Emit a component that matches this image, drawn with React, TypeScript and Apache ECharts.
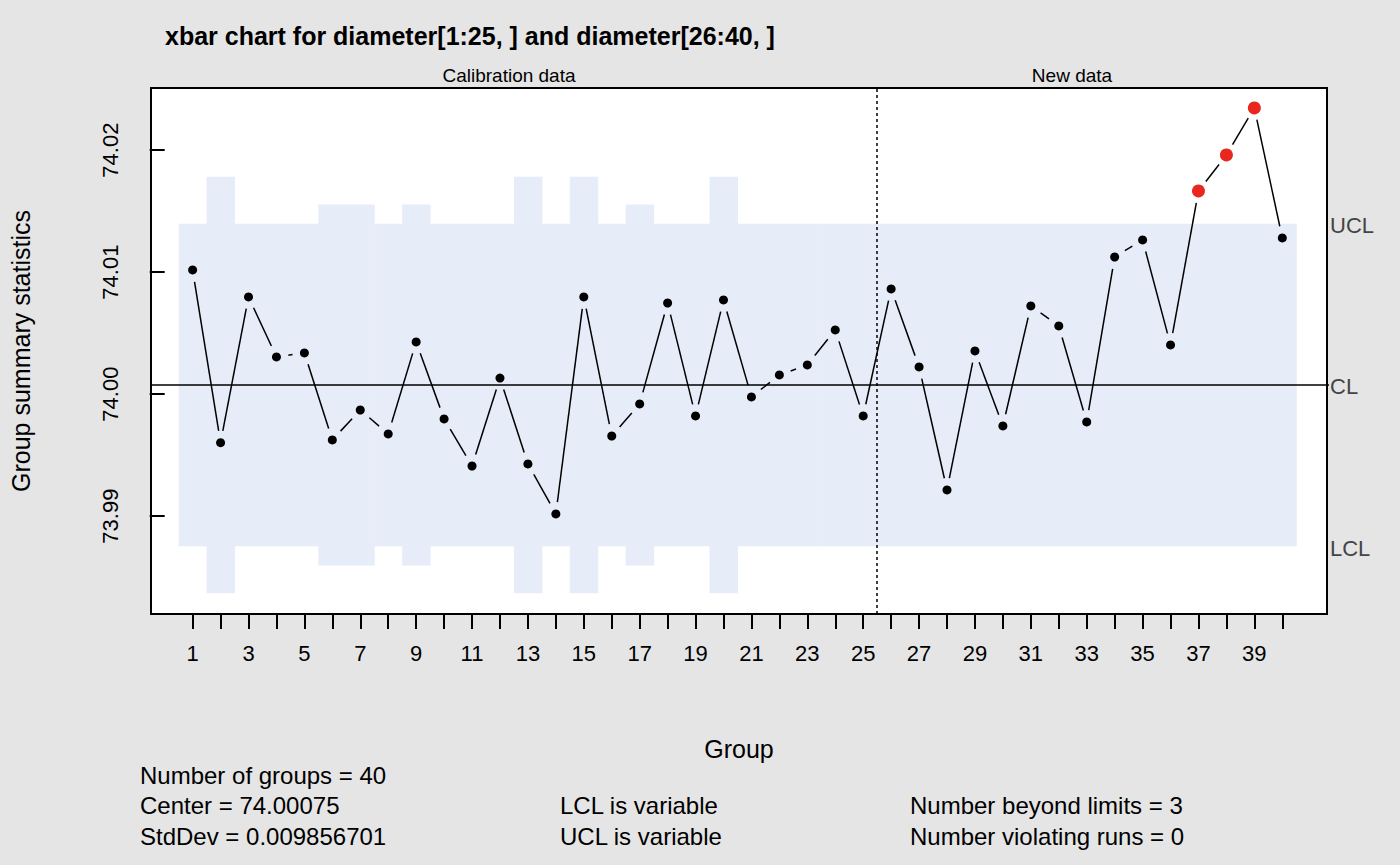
import React, { useEffect, useRef } from "react";
import * as echarts from "echarts";

const groups = Array.from({ length: 40 }, (_, i) => i + 1);
const means = [
  74.01018, 73.99602, 74.00797, 74.00305, 74.00338, 73.99625, 73.9987, 73.99674, 74.00428, 73.99797,
  73.99411, 74.00132, 73.99428, 73.99018, 74.00797, 73.99657, 73.9992, 74.00747, 73.99821, 74.00772,
  73.99977, 74.00157, 74.00239, 74.00526, 73.99821, 74.00862, 74.00223, 73.99215, 74.00354, 73.99739,
  74.00723, 74.00559, 73.99772, 74.01124, 74.01264, 74.00403, 74.01665, 74.0196, 74.02346, 74.0128,
];
const sampleSize = [
  5, 3, 5, 5, 5, 4, 4, 5, 4, 5, 5, 5, 3, 5, 3, 5, 4, 5, 5, 3, 5, 5, 5, 5, 5,
  5, 5, 5, 5, 5, 5, 5, 5, 5, 5, 5, 5, 5, 5, 5,
];
const center = 74.00075;
const stdDev = 0.009856701;
const ucl = sampleSize.map((n) => center + (3 * stdDev) / Math.sqrt(n));
const lcl = sampleSize.map((n) => center - (3 * stdDev) / Math.sqrt(n));
const beyond = means.map((m, i) => (m > ucl[i] || m < lcl[i] ? 1 : 0));
const yTicks = [73.99, 74.0, 74.01, 74.02];

export default function App() {
  const ref = useRef<HTMLDivElement>(null);
  useEffect(() => {
    document.body.style.margin = "0";
    document.body.style.background = "#e5e5e5";
    const chart = echarts.init(ref.current!, null, { renderer: "svg" });
    const font = "Liberation Sans, Arial, sans-serif";
    const txt = (x: number, y: number, t: string, extra: any = {}) => ({
      type: "text", x, y,
      style: { text: t, fill: "#000", font: `24px ${font}`, verticalAlign: "middle", ...extra },
    });
    chart.setOption({
      animation: false,
      backgroundColor: "#e5e5e5",
      grid: { left: 143, top: 88, width: 1184, height: 526, show: true, backgroundColor: "#fff", borderColor: "#000", borderWidth: 2 },
      xAxis: {
        type: "value", min: -0.49, max: 41.6,
        name: "Group", nameLocation: "middle", nameGap: 122,
        nameTextStyle: { fontSize: 25, color: "#000", fontFamily: font },
        axisLine: { show: false },
        splitLine: { show: false },
        axisTick: { show: true, length: 15, lineStyle: { color: "#000", width: 2 }, customValues: groups },
        axisLabel: {
          customValues: groups.filter((g) => g % 2 === 1),
          fontSize: 22, color: "#000", fontFamily: font, margin: 28,
        },
      },
      yAxis: {
        type: "value", min: 73.98198, max: 74.02509,
        name: "Group summary statistics", nameLocation: "middle", nameGap: 118,
        nameTextStyle: { fontSize: 25, color: "#000", fontFamily: font },
        axisLine: { show: false },
        splitLine: { show: false },
        axisTick: { show: true, length: 15, lineStyle: { color: "#000", width: 2 }, customValues: yTicks },
        axisLabel: {
          customValues: yTicks, rotate: 90, margin: 30,
          fontSize: 22, color: "#000", fontFamily: font,
          formatter: (v: number) => v.toFixed(2),
        },
      },
      series: [
        {
          type: "custom",
          data: groups.map((g, i) => [g, lcl[i], ucl[i]]),
          renderItem: (params: any, api: any) => {
            const p1 = api.coord([api.value(0) - 0.5, api.value(2)]);
            const p2 = api.coord([api.value(0) + 0.5, api.value(1)]);
            return {
              type: "rect",
              shape: { x: p1[0], y: p1[1], width: p2[0] - p1[0] + 0.5, height: p2[1] - p1[1] },
              style: { fill: "#e6ecf8" },
            };
          },
          silent: true, z: 1,
        },
        {
          type: "line",
          data: [[-1, center], [42, center]],
          symbol: "none",
          lineStyle: { color: "#000", width: 1.5 },
          z: 2, silent: true,
          markLine: {
            symbol: "none", silent: true,
            label: { show: false },
            lineStyle: { color: "#000", type: [3, 3], width: 1.5 },
            data: [{ xAxis: 25.5 }],
          },
        },
        {
          type: "custom",
          data: groups.slice(0, -1).map((g, i) => [g, means[i], groups[i + 1], means[i + 1]]),
          renderItem: (params: any, api: any) => {
            const a = api.coord([api.value(0), api.value(1)]);
            const b = api.coord([api.value(2), api.value(3)]);
            const dx = b[0] - a[0], dy = b[1] - a[1];
            const len = Math.sqrt(dx * dx + dy * dy);
            const gap = 12;
            if (len <= 2 * gap) return null;
            const ux = dx / len, uy = dy / len;
            return {
              type: "line",
              shape: { x1: a[0] + ux * gap, y1: a[1] + uy * gap, x2: b[0] - ux * gap, y2: b[1] - uy * gap },
              style: { stroke: "#000", lineWidth: 1.5 },
            };
          },
          silent: true, z: 3,
        },
        {
          type: "scatter",
          data: groups.map((g, i) => ({
            value: [g, means[i]],
            symbolSize: beyond[i] ? 13 : 9,
            itemStyle: { color: beyond[i] ? "#e8281e" : "#000", opacity: 1, borderWidth: 0 },
          })),
          z: 4, silent: true,
        },
      ],
      graphic: [
        txt(165, 36, "xbar chart for diameter[1:25, ] and diameter[26:40, ]", { font: `bold 25px ${font}` }),
        txt(509, 75, "Calibration data", { font: `19px ${font}`, align: "center" }),
        txt(1072, 75, "New data", { font: `19px ${font}`, align: "center" }),
        txt(1330, 225, "UCL", { fill: "#444", font: `22px ${font}` }),
        txt(1330, 386, "CL", { fill: "#444", font: `22px ${font}` }),
        txt(1330, 548, "LCL", { fill: "#444", font: `22px ${font}` }),
        txt(140, 775, "Number of groups = 40"),
        txt(140, 805, `Center = ${center}`),
        txt(140, 836, `StdDev = ${stdDev}`),
        txt(560, 805, "LCL is variable"),
        txt(560, 836, "UCL is variable"),
        txt(910, 805, `Number beyond limits = ${beyond.reduce((a, b) => a + b, 0)}`),
        txt(910, 836, "Number violating runs = 0"),
      ],
    });
    return () => chart.dispose();
  }, []);
  return <div ref={ref} style={{ width: 1400, height: 865 }} />;
}
